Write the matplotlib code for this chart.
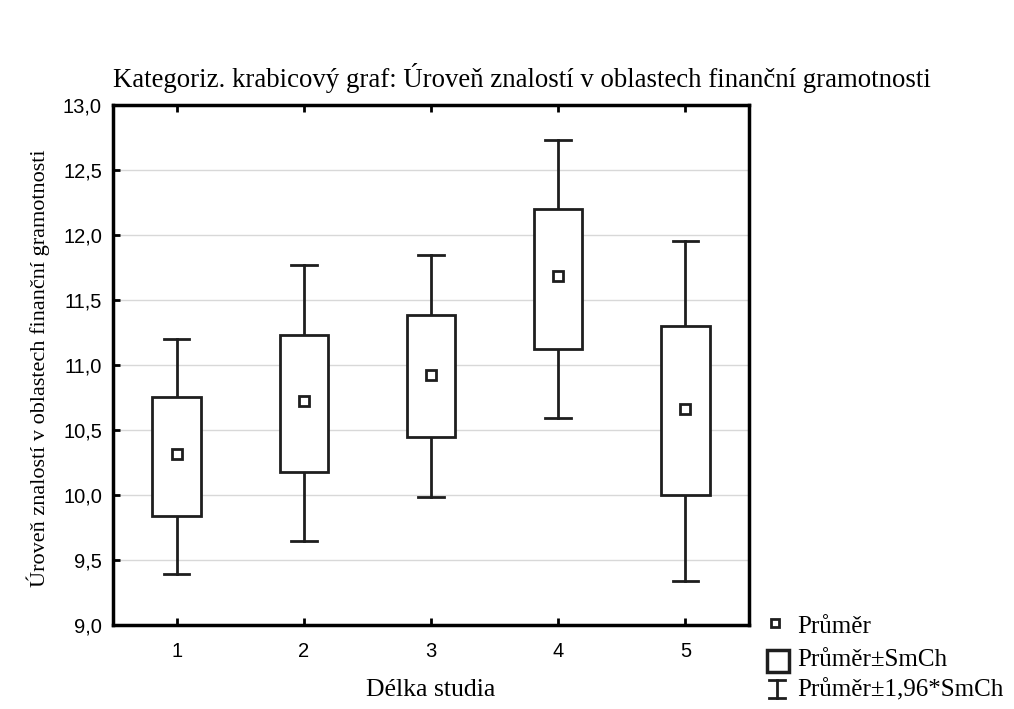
import matplotlib
matplotlib.use("Agg")
import matplotlib.pyplot as plt
from matplotlib.patches import Rectangle
from matplotlib.lines import Line2D

categories = ["1", "2", "3", "4", "5"]
means = [10.315, 10.72, 10.923, 11.685, 10.66]
box_low = [9.838, 10.18, 10.446, 11.123, 10.0]
box_high = [10.754, 11.23, 11.385, 12.2, 11.3]
whisk_low = [9.39, 9.646, 9.985, 10.592, 9.338]
whisk_high = [11.2, 11.77, 11.846, 12.73, 11.954]
yticks = [9.0, 9.5, 10.0, 10.5, 11.0, 11.5, 12.0, 12.5, 13.0]
ytick_labels = ["9,0", "9,5", "10,0", "10,5", "11,0", "11,5", "12,0", "12,5", "13,0"]

serif = ["Liberation Serif", "DejaVu Serif"]
sans = ["Liberation Sans", "DejaVu Sans"]
col = "#1e1e1e"

fig = plt.figure(figsize=(10.14, 7.09), dpi=100)
ax = fig.add_axes([113/1014, 1 - 625/709, (749-113)/1014, (625-105)/709])

bw = 0.38
cw = 0.2
for i in range(len(categories)):
    x = i + 1
    ax.plot([x, x], [box_high[i], whisk_high[i]], color=col, lw=2, zorder=3)
    ax.plot([x, x], [whisk_low[i], box_low[i]], color=col, lw=2, zorder=3)
    ax.plot([x - cw/2, x + cw/2], [whisk_high[i]]*2, color=col, lw=2, zorder=3)
    ax.plot([x - cw/2, x + cw/2], [whisk_low[i]]*2, color=col, lw=2, zorder=3)
    ax.add_patch(Rectangle((x - bw/2, box_low[i]), bw, box_high[i] - box_low[i],
                           facecolor="white", edgecolor=col, lw=2, zorder=3))
    ax.plot([x], [means[i]], marker="s", ms=7, mfc="white", mec=col, mew=2, zorder=4)

ax.set_xlim(0.5, 5.5)
ax.set_ylim(9.0, 13.0)
ax.set_xticks(range(1, len(categories) + 1))
ax.set_xticklabels(categories, fontfamily=sans, fontsize=14.5)
ax.set_yticks(yticks)
ax.set_yticklabels(ytick_labels, fontfamily=sans, fontsize=14.5)
ax.tick_params(axis="both", direction="in", length=5, width=2, color="black", pad=8)
ax.tick_params(axis="x", top=True, pad=12)
ax.grid(axis="y", color="#d8d8d8", lw=1, zorder=0)
ax.set_axisbelow(True)
for s in ax.spines.values():
    s.set_linewidth(2.5)
    s.set_color("black")

fig.text(113/1014, 1 - 78/709, "Kategoriz. krabicový graf: Úroveň znalostí v oblastech finanční gramotnosti",
         fontfamily=serif, fontsize=19.3, ha="left", va="center")
fig.text(38/1014, 1 - 368/709, "Úroveň znalostí v oblastech finanční gramotnosti",
         fontfamily=serif, fontsize=16, rotation=90, ha="center", va="center")
fig.text(431/1014, 1 - 690/709, "Délka studia", fontfamily=serif, fontsize=18.5, ha="center", va="center")

# legend
fig.add_artist(Line2D([775/1014], [1 - 623/709], marker="s", ms=6, mfc="white", mec=col, mew=2))
fig.add_artist(Rectangle((767/1014, 1 - 672/709), 22/1014, 22/709, facecolor="white",
                         edgecolor=col, lw=2.5, transform=fig.transFigure))
fig.add_artist(Line2D([777/1014, 777/1014], [1 - 680/709, 1 - 698/709], color=col, lw=2))
fig.add_artist(Line2D([769/1014, 785/1014], [1 - 680/709]*2, color=col, lw=2))
fig.add_artist(Line2D([769/1014, 785/1014], [1 - 698/709]*2, color=col, lw=2))
fig.text(797/1014, 1 - 627/709, "Průměr", fontfamily=serif, fontsize=18, ha="left", va="center")
fig.text(797/1014, 1 - 660/709, "Průměr±SmCh", fontfamily=serif, fontsize=18, ha="left", va="center")
fig.text(797/1014, 1 - 690/709, "Průměr±1,96*SmCh", fontfamily=serif, fontsize=18, ha="left", va="center")

fig.savefig("out.png", dpi=100, facecolor="white")
